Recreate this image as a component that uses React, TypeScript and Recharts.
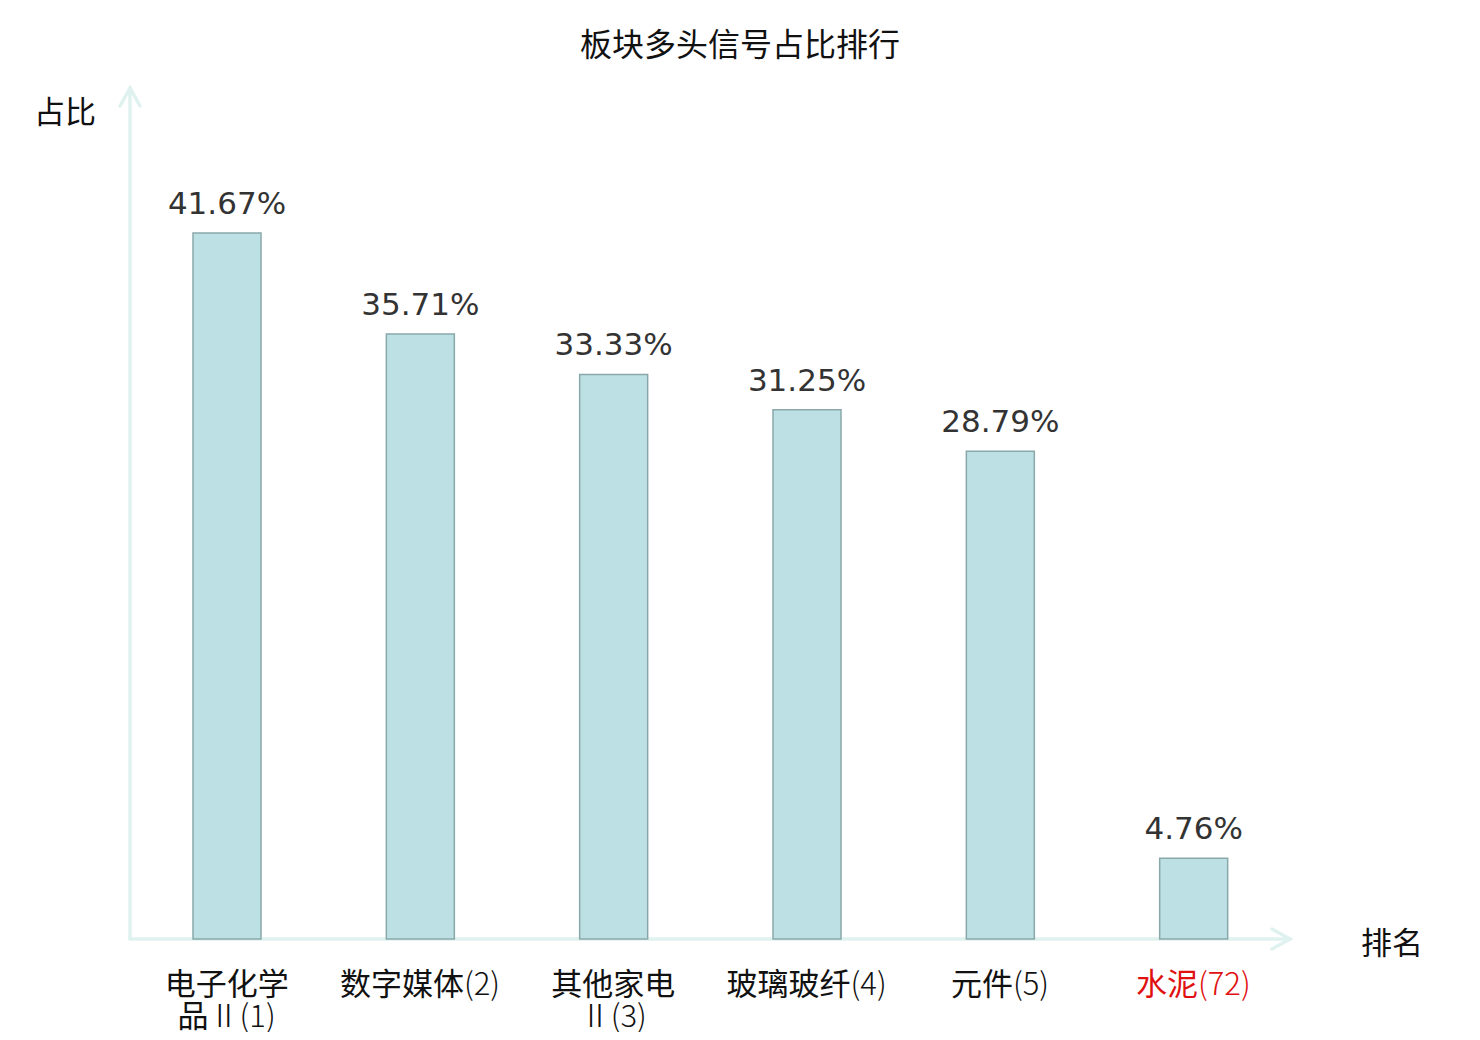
import { BarChart, Bar, XAxis, YAxis, LabelList, usePlotArea } from 'recharts';

const sectors = ['电子化学品Ⅱ(1)', '数字媒体(2)', '其他家电Ⅱ(3)', '玻璃玻纤(4)', '元件(5)', '水泥(72)'];
const tickLines = [
  ['电子化学', '品Ⅱ(1)'],
  ['数字媒体(2)'],
  ['其他家电', 'Ⅱ(3)'],
  ['玻璃玻纤(4)'],
  ['元件(5)'],
  ['水泥(72)'],
];
const ratios = [41.67, 35.71, 33.33, 31.25, 28.79, 4.76];
const highlighted = '水泥(72)';

const data = sectors.map((name, i) => ({ name, ratio: ratios[i] }));

const CJK = '"Noto Sans CJK SC", "Noto Sans", sans-serif';
const AXIS = '#dff2ef';

// latin runs in the reference render thinner than the CJK glyphs
function splitRuns(s: string) {
  return s.split(/([\u4e00-\u9fff]+)/).filter(Boolean);
}

function SectorTick({ x, y, payload, index }: any) {
  const lines = tickLines[index] ?? [payload.value];
  const color = payload.value === highlighted ? '#e01010' : '#111';
  return (
    <text x={x} y={y} textAnchor="middle" fontFamily={CJK} fontSize={31} fill={color}>
      {lines.map((l, i) => (
        <tspan key={i} x={x} dy={i === 0 ? 48 : 32}>
          {splitRuns(l).map((r, j) =>
            /[\u4e00-\u9fff]/.test(r) ? (
              <tspan key={j}>{r}</tspan>
            ) : (
              <tspan key={j} fontWeight={300}>
                {r}
              </tspan>
            ),
          )}
        </tspan>
      ))}
    </text>
  );
}

function Axes() {
  const p = usePlotArea();
  if (!p) return null;
  const x0 = p.x;
  const y0 = p.y + p.height;
  const xEnd = p.x + p.width;
  const yEnd = p.y - 4;
  return (
    <g stroke={AXIS} strokeWidth={3.5} fill="none" strokeLinecap="round">
      <line x1={x0} y1={y0} x2={xEnd} y2={y0} />
      <polyline points={`${xEnd - 18},${y0 - 10} ${xEnd},${y0} ${xEnd - 18},${y0 + 10}`} />
      <line x1={x0} y1={y0} x2={x0} y2={yEnd} />
      <polyline points={`${x0 - 10},${yEnd + 18} ${x0},${yEnd} ${x0 + 10},${yEnd + 18}`} />
    </g>
  );
}

export default function App() {
  return (
    <div style={{ position: 'relative', width: 1480, height: 1040, margin: -8, background: '#fff' }}>
      <div
        style={{
          position: 'absolute',
          left: 0,
          top: 20,
          width: 1480,
          textAlign: 'center',
          fontFamily: CJK,
          fontSize: 32,
          lineHeight: '44px',
          color: '#111',
        }}
      >
        板块多头信号占比排行
      </div>
      <div style={{ position: 'absolute', left: 34, top: 88, fontFamily: CJK, fontSize: 31, lineHeight: '44px', color: '#111' }}>
        占比
      </div>
      <div style={{ position: 'absolute', left: 1361, top: 919, fontFamily: CJK, fontSize: 31, lineHeight: '44px', color: '#111' }}>
        排名
      </div>
      <BarChart
        width={1480}
        height={1040}
        data={data}
        margin={{ top: 92, right: 190, left: 130, bottom: 0 }}
        barCategoryGap={0}
      >
        <YAxis hide domain={[0, 50]} />
        <XAxis
          dataKey="name"
          axisLine={false}
          tickLine={false}
          interval={0}
          height={101}
          tick={<SectorTick />}
        />
        <Bar dataKey="ratio" barSize={68} fill="#bce0e3" stroke="#8aa8aa" strokeWidth={1.5} isAnimationActive={false}>
          <LabelList
            dataKey="ratio"
            position="top"
            offset={19}
            formatter={(v: any) => `${v}%`}
            fill="#333"
            fontSize={31}
            fontFamily='"DejaVu Sans", sans-serif'
          />
        </Bar>
        <Axes />
      </BarChart>
    </div>
  );
}
